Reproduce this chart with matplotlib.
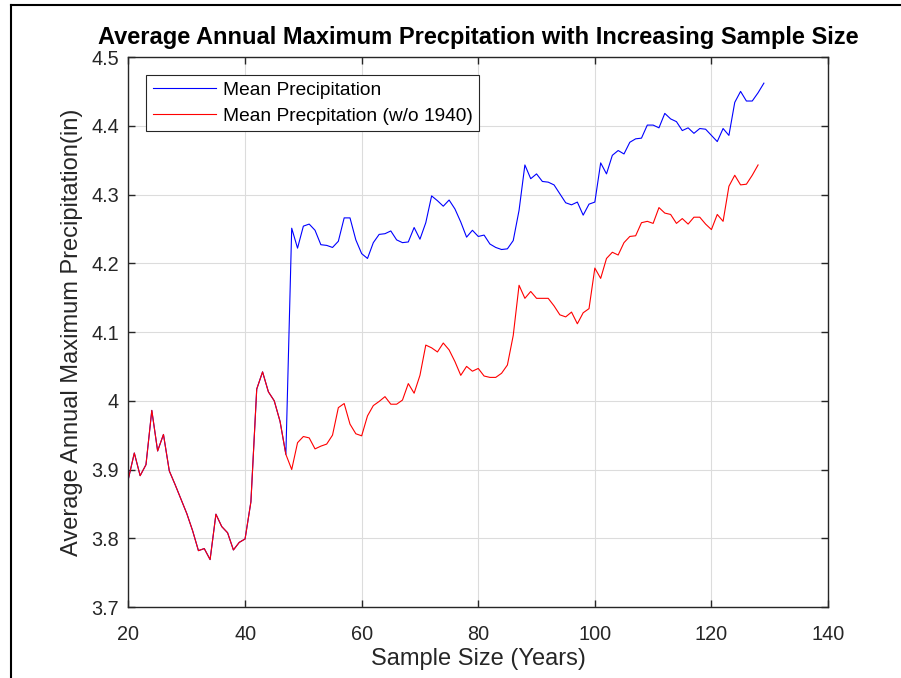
import matplotlib
matplotlib.use("Agg")
import matplotlib.pyplot as plt
from matplotlib.lines import Line2D

plt.rcParams['font.family'] = ['Liberation Sans', 'DejaVu Sans']

# Sample sizes (years) and running mean of annual maximum precipitation (in)
years_all = list(range(20, 130))
mean_all = [
    3.887, 3.924, 3.891, 3.907, 3.986, 3.927, 3.951, 3.898, 3.878, 3.857,
    3.836, 3.811, 3.782, 3.785, 3.769, 3.835, 3.817, 3.808, 3.783, 3.794,
    3.799, 3.853, 4.017, 4.042, 4.013, 4.000, 3.970, 3.922, 4.251, 4.222,
    4.254, 4.257, 4.248, 4.227, 4.226, 4.223, 4.232, 4.266, 4.266, 4.234,
    4.214, 4.207, 4.230, 4.242, 4.243, 4.247, 4.234, 4.230, 4.231, 4.252,
    4.235, 4.259, 4.298, 4.291, 4.283, 4.292, 4.279, 4.260, 4.238, 4.248,
    4.239, 4.241, 4.228, 4.223, 4.220, 4.221, 4.233, 4.277, 4.343, 4.323,
    4.330, 4.319, 4.318, 4.314, 4.301, 4.288, 4.285, 4.289, 4.270, 4.286,
    4.289, 4.346, 4.330, 4.357, 4.364, 4.359, 4.376, 4.381, 4.382, 4.401,
    4.401, 4.397, 4.418, 4.410, 4.406, 4.393, 4.397, 4.389, 4.396, 4.395,
    4.386, 4.377, 4.396, 4.386, 4.434, 4.450, 4.436, 4.436, 4.448, 4.462,
]

# Same running mean with the 1940 record left out
years_excl = list(range(20, 129))
mean_excl = [
    3.887, 3.924, 3.891, 3.907, 3.986, 3.927, 3.951, 3.898, 3.878, 3.857,
    3.836, 3.811, 3.782, 3.785, 3.769, 3.835, 3.817, 3.808, 3.783, 3.794,
    3.799, 3.853, 4.017, 4.042, 4.013, 4.000, 3.970, 3.922, 3.900, 3.939,
    3.948, 3.946, 3.930, 3.934, 3.937, 3.950, 3.990, 3.996, 3.966, 3.952,
    3.949, 3.978, 3.993, 3.999, 4.006, 3.995, 3.995, 4.001, 4.025, 4.011,
    4.037, 4.081, 4.077, 4.071, 4.084, 4.074, 4.057, 4.037, 4.050, 4.043,
    4.047, 4.036, 4.034, 4.034, 4.040, 4.052, 4.095, 4.168, 4.149, 4.159,
    4.149, 4.149, 4.149, 4.138, 4.125, 4.122, 4.129, 4.112, 4.128, 4.134,
    4.193, 4.178, 4.207, 4.216, 4.212, 4.230, 4.239, 4.240, 4.259, 4.261,
    4.258, 4.281, 4.273, 4.271, 4.258, 4.265, 4.257, 4.267, 4.267, 4.257,
    4.249, 4.271, 4.261, 4.312, 4.328, 4.314, 4.315, 4.328, 4.343,
]

x_ticks = [20, 40, 60, 80, 100, 120, 140]
y_ticks = [3.7, 3.8, 3.9, 4.0, 4.1, 4.2, 4.3, 4.4, 4.5]
y_tick_labels = ['3.7', '3.8', '3.9', '4', '4.1', '4.2', '4.3', '4.4', '4.5']

axis_color = '#262626'

fig = plt.figure(figsize=(9.01, 6.78), dpi=100)
ax = fig.add_axes([0.1426, 0.1047, 0.7764, 0.8112])

ax.plot(years_all, mean_all, color=(0, 0, 1), lw=0.8, label='Mean Precipitation')
ax.plot(years_excl, mean_excl, color=(1, 0, 0), lw=0.8,
        label='Mean Precpitation (w/o 1940)')

ax.set_xlim(20, 140)
ax.set_ylim(3.7, 4.5)
ax.set_xticks(x_ticks)
ax.set_yticks(y_ticks)
ax.set_yticklabels(y_tick_labels)

ax.grid(True, color='#dcdcdc', lw=0.8)
ax.set_axisbelow(True)
for s in ax.spines.values():
    s.set_color(axis_color)
    s.set_linewidth(1.0)
ax.tick_params(direction='in', length=5, width=1.0, colors=axis_color,
               labelsize=14.3, top=True, right=True)
ax.tick_params(axis='y', pad=7)
ax.tick_params(axis='x', pad=13)

ax.set_title('Average Annual Maximum Precpitation with Increasing Sample Size',
             fontsize=17, fontweight='bold', pad=9.5)
ax.set_xlabel('Sample Size (Years)', fontsize=17, color=axis_color, labelpad=3)
ax.set_ylabel('Average Annual Maximum Precipitation(in)', fontsize=17,
              color=axis_color, labelpad=6)

leg = ax.legend(loc='upper left', bbox_to_anchor=(0.025, 0.968), fontsize=13.8,
                handlelength=3.3, handletextpad=0.35, borderpad=0.35,
                labelspacing=0.45, borderaxespad=0, fancybox=False,
                framealpha=1, edgecolor=axis_color)
leg.get_frame().set_linewidth(0.8)

# Frame lines along the top and left edges of the figure
fig.add_artist(Line2D([10.5 / 901, 1.0], [1 - 5 / 678, 1 - 5 / 678],
                      transform=fig.transFigure, color='black', lw=1.5))
fig.add_artist(Line2D([10.5 / 901, 10.5 / 901], [0, 1 - 5 / 678],
                      transform=fig.transFigure, color='black', lw=1.5))

fig.savefig('out.png', dpi=100)
